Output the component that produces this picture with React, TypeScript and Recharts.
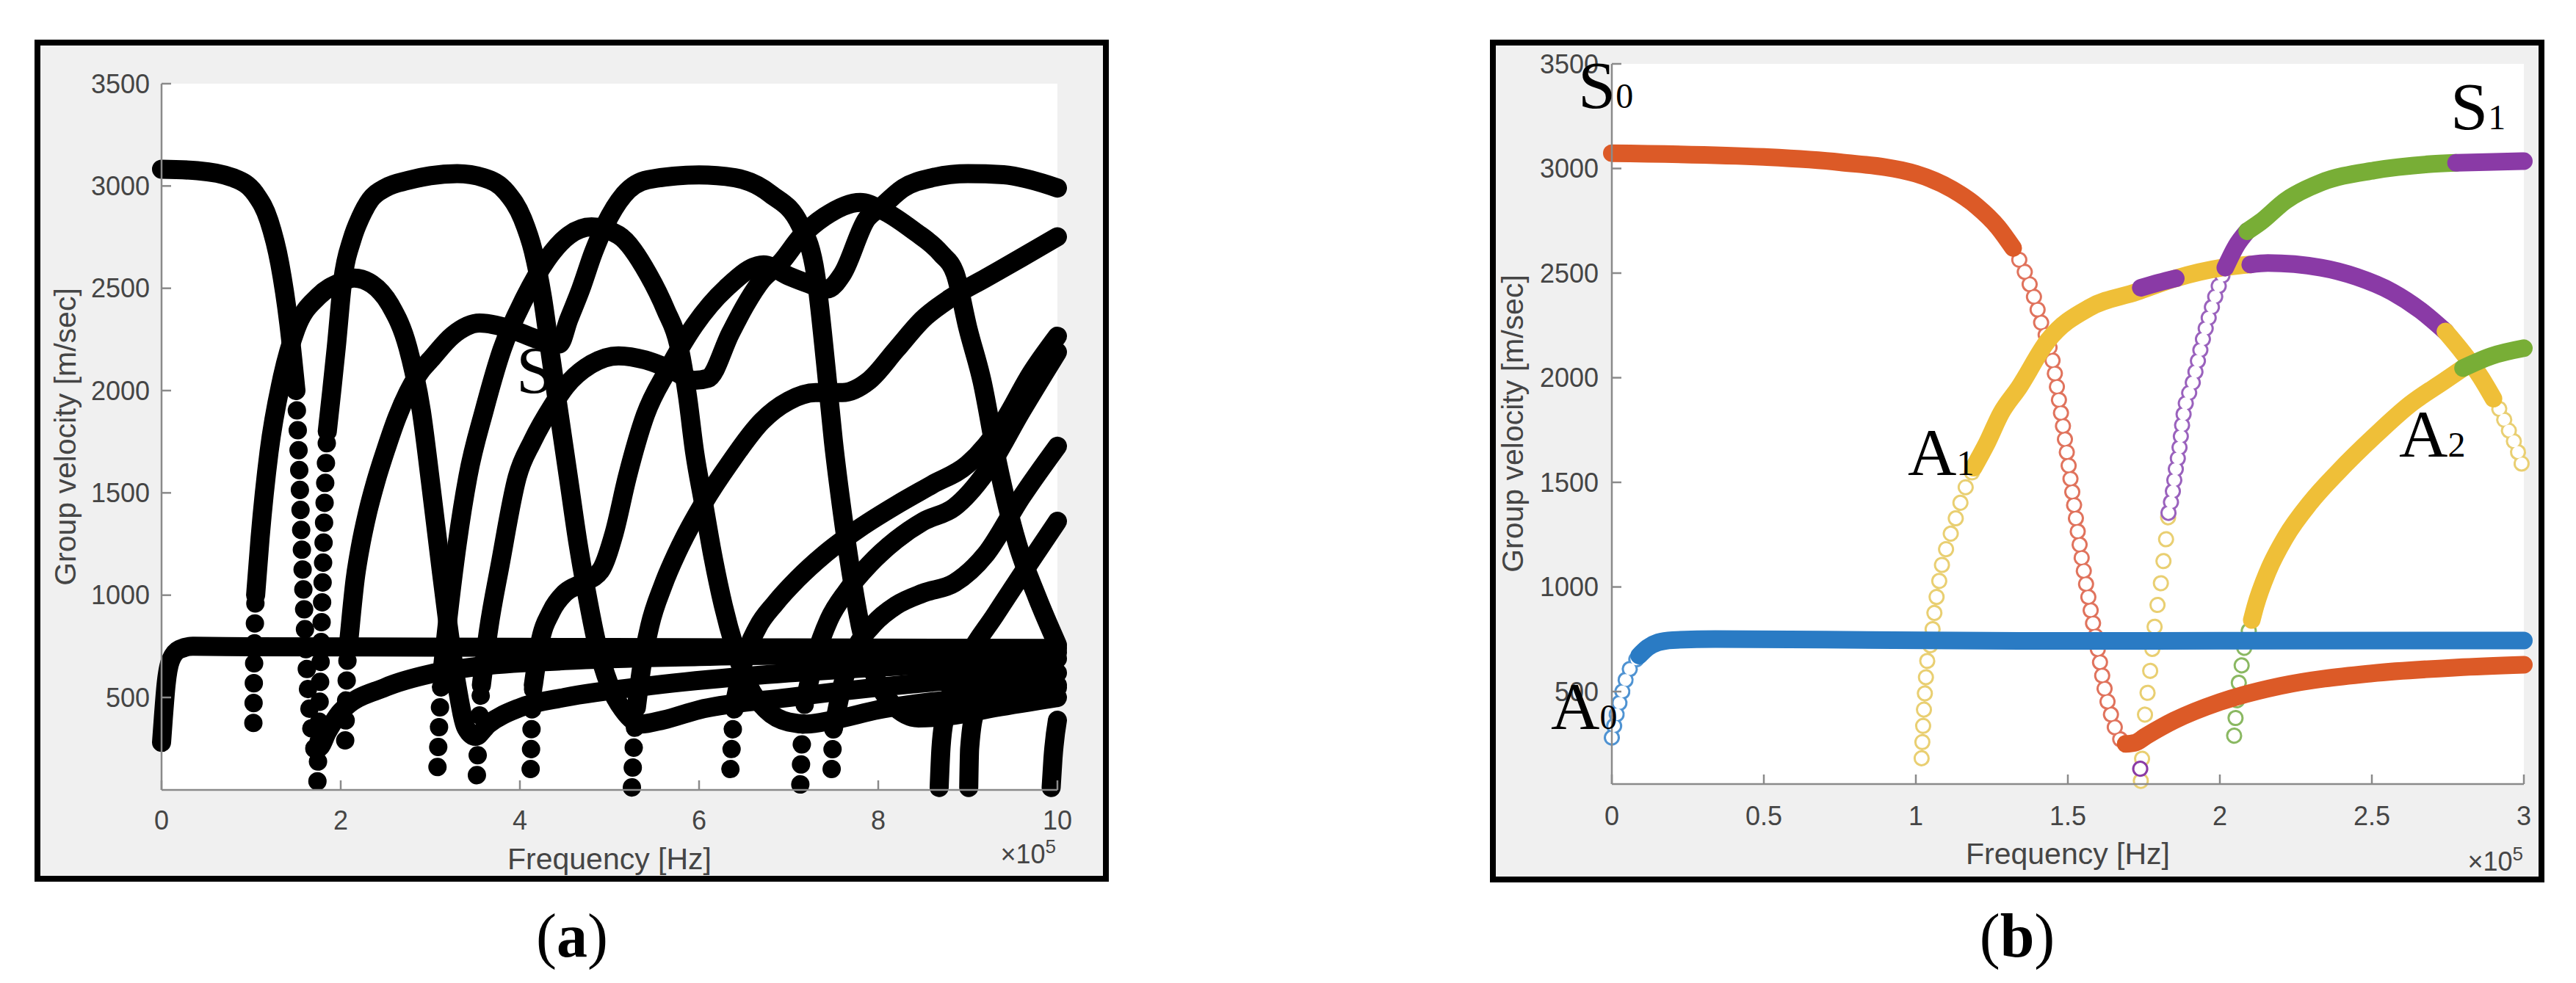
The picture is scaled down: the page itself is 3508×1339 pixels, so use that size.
import React from 'react';
import { ComposedChart, Line, XAxis, YAxis, CartesianGrid } from 'recharts';

type P = [number, number];

// ---------- panel (a): all modes, frequency in 1e5 Hz ----------
const A_X_TICKS = [0, 2, 4, 6, 8, 10];
const A_Y_TICKS = [500, 1000, 1500, 2000, 2500, 3000, 3500];

const A_A0: P[] = [[0, 280], [0.02, 400], [0.05, 560], [0.1, 680], [0.2, 735], [0.35, 750], [1, 748], [4, 745], [7, 742], [10, 740]];
const A_S0_1: P[] = [[0, 3082], [0.4, 3075], [0.8, 3040], [1.05, 2960], [1.2, 2830], [1.32, 2620], [1.42, 2330], [1.5, 2000]];
const A_S0_DOTS: P[] = [[1.5, 2000], [1.53, 1700], [1.56, 1300], [1.59, 950], [1.62, 650], [1.66, 400], [1.71, 250]];
const A_S0_2: P[] = [[1.71, 250], [1.76, 255], [1.85, 330], [2.0, 430], [2.5, 550], [3.0, 615], [3.5, 650], [4.5, 680], [6, 700], [8, 712], [10, 720]];
const A_A1_DOTS: P[] = [[1.025, 375], [1.03, 570], [1.035, 700], [1.04, 820], [1.05, 1000]];
const A_A1: P[] = [[1.05, 1000], [1.1, 1280], [1.2, 1700], [1.34, 2050], [1.5, 2300], [1.75, 2460], [2.0, 2530], [2.15, 2550], [2.35, 2520], [2.55, 2420], [2.75, 2210], [2.9, 1900], [3.0, 1560], [3.1, 1200], [3.2, 850], [3.3, 550], [3.4, 350], [3.5, 310], [3.65, 370], [4.0, 450], [4.5, 500], [5.5, 560], [7, 620], [8.5, 660], [10, 690]];
const A_S1_DOTS: P[] = [[1.74, 90], [1.76, 400], [1.78, 750], [1.8, 1100], [1.82, 1450], [1.85, 1800]];
const A_S1: P[] = [[1.85, 1800], [1.9, 2000], [1.95, 2210], [2.02, 2530], [2.13, 2744], [2.22, 2846], [2.33, 2933], [2.5, 2991], [2.75, 3027], [3.0, 3050], [3.3, 3060], [3.6, 3040], [3.85, 2970], [4.03, 2840], [4.15, 2680], [4.25, 2460], [4.35, 2150], [4.45, 1850], [4.55, 1550], [4.65, 1250], [4.75, 1000], [4.85, 780], [5.0, 560], [5.15, 440], [5.35, 370], [5.6, 390], [6, 440], [7, 500], [8, 550], [9, 590], [10, 620]];
const A_A2_DOTS: P[] = [[2.05, 290], [2.065, 560], [2.08, 730]];
const A_A2: P[] = [[2.08, 730], [2.105, 842], [2.12, 910], [2.16, 1074], [2.22, 1238], [2.3, 1404], [2.39, 1553], [2.51, 1720], [2.63, 1870], [2.75, 1990], [2.9, 2100], [3.0, 2150], [3.25, 2270], [3.55, 2330], [3.9, 2300], [4.2, 2250], [4.44, 2228], [4.545, 2347], [4.68, 2496], [4.82, 2674], [4.95, 2808], [5.16, 2957], [5.43, 3031], [6.0, 3054], [6.4, 3040], [6.8, 2960], [7.13, 2808], [7.3, 2570], [7.42, 2100], [7.5, 1750], [7.6, 1400], [7.7, 1100], [7.8, 850], [7.95, 620], [8.15, 470], [8.45, 400], [8.8, 410], [9.3, 450], [10, 500]];
const A_S2_DOTS: P[] = [[3.08, 160], [3.1, 380], [3.13, 620]];
const A_S2: P[] = [[3.13, 620], [3.2, 900], [3.3, 1250], [3.42, 1580], [3.6, 1900], [3.8, 2200], [4.05, 2450], [4.3, 2640], [4.55, 2760], [4.8, 2800], [5.1, 2760], [5.43, 2570], [5.63, 2392], [5.77, 2228], [5.87, 1975], [5.95, 1700], [6.05, 1450], [6.15, 1200], [6.27, 950], [6.4, 740], [6.55, 560], [6.75, 440], [7.0, 380], [7.2, 370], [7.5, 390], [8, 440], [9, 500], [10, 560]];
const A_A3_DOTS: P[] = [[3.52, 120], [3.54, 330], [3.57, 560]];
const A_A3: P[] = [[3.57, 560], [3.65, 830], [3.78, 1150], [3.97, 1577], [4.14, 1752], [4.37, 1930], [4.51, 2020], [4.8, 2130], [5.1, 2170], [5.4, 2150], [5.7, 2100], [5.95, 2050], [6.1, 2060], [6.35, 2280], [6.52, 2420], [6.7, 2540], [6.92, 2630], [7.13, 2749], [7.4, 2850], [7.8, 2920], [8.04, 2883], [8.4, 2780], [8.7, 2670], [8.86, 2570], [9.0, 2306], [9.16, 2043], [9.33, 1650], [9.55, 1256], [9.77, 994], [10, 757]];
const A_S3_DOTS: P[] = [[4.12, 150], [4.13, 350], [4.15, 560]];
const A_S3: P[] = [[4.15, 560], [4.22, 760], [4.35, 920], [4.5, 1010], [4.7, 1060], [4.9, 1120], [5.05, 1300], [5.2, 1580], [5.4, 1880], [5.65, 2100], [5.95, 2320], [6.3, 2500], [6.72, 2615], [7.0, 2560], [7.2, 2526], [7.43, 2496], [7.6, 2570], [7.87, 2838], [8.04, 2900], [8.28, 2990], [8.6, 3040], [9.0, 3060], [9.4, 3055], [9.7, 3030], [10, 2990]];
const A_A4_DOTS: P[] = [[5.25, 60], [5.27, 250], [5.3, 450]];
const A_A4: P[] = [[5.3, 450], [5.36, 650], [5.45, 850], [5.6, 1050], [5.8, 1250], [6.05, 1450], [6.35, 1650], [6.7, 1850], [7.0, 1950], [7.3, 1990], [7.6, 1990], [7.9, 2050], [8.2, 2200], [8.5, 2350], [8.8, 2450], [9.2, 2550], [9.6, 2650], [10, 2752]];
const A_A5_DOTS: P[] = [[6.35, 150], [6.37, 300], [6.4, 480]];
const A_A5: P[] = [[6.4, 480], [6.5, 680], [6.65, 840], [6.85, 960], [7.1, 1080], [7.4, 1200], [7.8, 1330], [8.2, 1440], [8.6, 1540], [9.0, 1640], [9.4, 1850], [9.7, 2080], [10, 2266]];
const A_S5_DOTS: P[] = [[7.13, 75], [7.15, 300], [7.2, 520]];
const A_S5: P[] = [[7.2, 520], [7.3, 700], [7.45, 880], [7.65, 1020], [7.9, 1150], [8.2, 1270], [8.5, 1360], [8.85, 1430], [9.2, 1600], [9.6, 1900], [10, 2188]];
const A_A6_DOTS: P[] = [[7.48, 150], [7.5, 350]];
const A_A6: P[] = [[7.5, 350], [7.6, 560], [7.75, 740], [7.95, 860], [8.2, 950], [8.5, 1010], [8.85, 1060], [9.2, 1200], [9.6, 1480], [10, 1728]];
const A_S6: P[] = [[8.68, 60], [8.7, 250], [8.75, 420], [8.85, 560], [9.0, 700], [9.3, 900], [9.6, 1100], [10, 1361]];
const A_A7: P[] = [[9.01, 60], [9.02, 250], [9.08, 420], [9.3, 480], [9.6, 520], [10, 547]];
const A_S7: P[] = [[9.93, 60], [9.95, 200], [10, 389]];

const A_BANDS = [A_A0, A_S0_1, A_S0_2, A_A1, A_S1, A_A2, A_S2, A_A3, A_S3, A_A4, A_A5, A_S5, A_A6, A_S6, A_A7, A_S7];
const A_DOTS = [A_S0_DOTS, A_A1_DOTS, A_S1_DOTS, A_A2_DOTS, A_S2_DOTS, A_A3_DOTS, A_S3_DOTS, A_A4_DOTS, A_A5_DOTS, A_S5_DOTS, A_A6_DOTS];

// ---------- panel (b): first modes, frequency in 1e5 Hz ----------
const B_X_TICKS = [0, 0.5, 1, 1.5, 2, 2.5, 3];
const B_Y_TICKS = [500, 1000, 1500, 2000, 2500, 3000, 3500];

const B_A0_RINGS: P[] = [[0, 280], [0.014, 379], [0.028, 462], [0.043, 545], [0.06, 611], [0.084, 660], [0.118, 710]];
const B_A0_BAND: P[] = [[0.09, 672], [0.118, 710], [0.152, 735], [0.2, 746], [0.34, 751], [0.7, 748], [1.34, 742], [2.0, 743], [3.0, 744]];
const B_S0_BAND1: P[] = [[0, 3073], [0.5, 3055], [0.75, 3030], [1.0, 2975], [1.12, 2900], [1.2, 2820], [1.27, 2720], [1.32, 2620]];
const B_S0_RINGS: P[] = [[1.32, 2620], [1.36, 2500], [1.39, 2380], [1.415, 2250], [1.434, 2175], [1.45, 2080], [1.47, 1900], [1.49, 1710], [1.515, 1450], [1.54, 1190], [1.57, 930], [1.6, 690], [1.62, 520], [1.64, 400], [1.665, 290], [1.69, 250]];
const B_S0_BAND2: P[] = [[1.69, 250], [1.72, 255], [1.76, 290], [1.85, 362], [2.0, 450], [2.2, 527], [2.5, 587], [2.78, 615], [3.0, 628]];
const B_A1_RINGS: P[] = [[1.019, 181], [1.029, 475], [1.037, 639], [1.052, 759], [1.06, 864], [1.068, 950], [1.077, 1029], [1.086, 1106], [1.098, 1173], [1.109, 1230], [1.123, 1288], [1.14, 1371], [1.158, 1453], [1.181, 1536], [1.204, 1602]];
const B_A1_BAND: P[] = [[1.19, 1570], [1.233, 1685], [1.28, 1830], [1.34, 1955], [1.434, 2177], [1.574, 2337], [1.726, 2410], [1.854, 2475], [2.006, 2526], [2.1, 2541]];
const B_A1_PURPLE1: P[] = [[1.74, 2430], [1.8, 2455], [1.855, 2475]];
const B_A1_PURPLE2: P[] = [[2.1, 2541], [2.158, 2548], [2.333, 2526], [2.45, 2482], [2.567, 2410], [2.66, 2322], [2.742, 2221]];
const B_A1_TAIL: P[] = [[2.742, 2221], [2.8, 2119], [2.858, 2003], [2.9, 1900]];
const B_A1_TAIL_RINGS: P[] = [[2.9, 1900], [2.917, 1857], [2.95, 1750], [2.975, 1668], [3.0, 1553]];
const B_S1_RINGS_Y: P[] = [[1.74, 73], [1.755, 412], [1.767, 545], [1.775, 660], [1.784, 792], [1.796, 925], [1.808, 1040], [1.817, 1156], [1.825, 1255], [1.831, 1354]];
const B_S1_RINGS_P: P[] = [[1.831, 1354], [1.845, 1453], [1.854, 1553], [1.866, 1652], [1.878, 1799], [1.913, 1988], [1.948, 2206], [1.983, 2380], [2.018, 2526]];
const B_S1_LOW_P: P[] = [[1.738, 131], [1.739, 133]];
const B_S1_PURPLE1: P[] = [[2.018, 2526], [2.053, 2628], [2.09, 2700]];
const B_S1_GREEN: P[] = [[2.09, 2700], [2.134, 2744], [2.216, 2846], [2.333, 2933], [2.508, 2991], [2.683, 3020], [2.777, 3027]];
const B_S1_PURPLE2: P[] = [[2.777, 3027], [2.9, 3032], [3.0, 3035]];
const B_A2_RINGS: P[] = [[2.047, 289], [2.064, 562], [2.074, 644], [2.082, 726], [2.095, 790], [2.105, 842]];
const B_A2_BAND: P[] = [[2.105, 842], [2.117, 908], [2.158, 1074], [2.216, 1238], [2.298, 1404], [2.391, 1553], [2.508, 1720], [2.625, 1872], [2.742, 1988], [2.8, 2046]];
const B_A2_GREEN: P[] = [[2.8, 2046], [2.894, 2104], [3.0, 2141]];

const BLUE = '#2a7bc4';
const ORANGE = '#dc5a27';
const YELLOW = '#efbf38';
const PURPLE = '#8a3aa6';
const GREEN = '#78ae36';
const BLUE_RING = '#4f93d2';
const ORANGE_RING = '#e0735d';
const YELLOW_RING = '#e9cf72';
const PURPLE_RING = '#9a62bd';
const GREEN_RING = '#8ab862';

const AXIS = '#8a8a8a';
const TICK_TXT = '#454545';
const SANS = '"Liberation Sans", Arial, Helvetica, sans-serif';
const SERIF = '"Liberation Serif", "DejaVu Serif", serif';

const toData = (a: P[]) => a.map(([x, y]) => ({ x, y }));

const band = (key: string, a: P[], color: string, width: number) => (
  <Line
    key={key}
    data={toData(a)}
    dataKey="y"
    type="monotone"
    stroke={color}
    strokeWidth={width}
    strokeLinecap="round"
    strokeLinejoin="round"
    dot={false}
    activeDot={false}
    isAnimationActive={false}
  />
);

const dotted = (key: string, a: P[], color: string, size: number, gap: number) => (
  <Line
    key={key}
    data={toData(a)}
    dataKey="y"
    type="monotone"
    stroke={color}
    strokeWidth={size}
    strokeLinecap="round"
    strokeDasharray={`0.1 ${gap}`}
    dot={false}
    activeDot={false}
    isAnimationActive={false}
  />
);

const rings = (key: string, a: P[], color: string, gap: number) => [
  dotted(key + 'o', a, color, 22, gap),
  dotted(key + 'i', a, '#ffffff', 16, gap),
];

interface FrameProps {
  left: number;
  width: number;
  height: number;
  margin: { top: number; right: number; bottom: number; left: number };
  xDomain: [number, number];
  yDomain: [number, number];
  xTicks: number[];
  yTicks: number[];
  xTickMargin: number;
  yTickMargin: number;
  children: React.ReactNode;
}

const Frame = (p: FrameProps) => (
  <div style={{ position: 'absolute', left: p.left, top: 0, width: p.width, height: p.height }}>
    <ComposedChart width={p.width} height={p.height} margin={p.margin}>
      <CartesianGrid horizontal={false} vertical={false} fill="#ffffff" />
      <XAxis
        dataKey="x"
        type="number"
        domain={p.xDomain}
        ticks={p.xTicks}
        height={80}
        tickSize={-13}
        tickMargin={p.xTickMargin}
        stroke={AXIS}
        strokeWidth={2.5}
        tick={{ fill: TICK_TXT, fontSize: 36, fontFamily: SANS }}
      />
      <XAxis
        xAxisId="top"
        orientation="top"
        dataKey="x"
        type="number"
        domain={p.xDomain}
        ticks={p.xTicks}
        allowDataOverflow
        height={0}
        tickSize={-13}
        tick={false}
        stroke={AXIS}
        strokeWidth={2.5}
      />
      <YAxis
        type="number"
        domain={p.yDomain}
        ticks={p.yTicks}
        width={120}
        tickSize={-13}
        tickMargin={p.yTickMargin}
        stroke={AXIS}
        strokeWidth={2.5}
        tick={{ fill: TICK_TXT, fontSize: 36, fontFamily: SANS }}
      />
      <YAxis
        yAxisId="right"
        orientation="right"
        type="number"
        domain={p.yDomain}
        ticks={p.yTicks}
        allowDataOverflow
        width={0}
        tickSize={-13}
        tick={false}
        stroke={AXIS}
        strokeWidth={2.5}
      />
      {p.children}
    </ComposedChart>
  </div>
);

const boxStyle = (left: number, width: number, height: number): React.CSSProperties => ({
  position: 'absolute',
  left,
  top: 54,
  width,
  height,
  boxSizing: 'border-box',
  border: '8px solid #000',
  background: '#f0f0f0',
});

const App = () => {
  const aLines = [
    ...A_DOTS.map((d, i) => dotted('ad' + i, d, '#000', 25, 27)),
    ...A_BANDS.map((d, i) => band('ab' + i, d, '#000', 26)),
  ];

  const bLines = [
    ...rings('r1', B_A0_RINGS, BLUE_RING, 16),
    ...rings('r2', B_S0_RINGS, ORANGE_RING, 18),
    ...rings('r3', B_A1_RINGS, YELLOW_RING, 22),
    ...rings('r4', B_A1_TAIL_RINGS, YELLOW_RING, 16),
    ...rings('r5', B_S1_RINGS_Y, YELLOW_RING, 30),
    ...rings('r6', B_S1_RINGS_P, PURPLE_RING, 15),
    ...rings('r7', B_S1_LOW_P, PURPLE, 30),
    ...rings('r8', B_A2_RINGS, GREEN_RING, 24),
    band('b1', B_A0_BAND, BLUE, 24),
    band('b2', B_S0_BAND1, ORANGE, 24),
    band('b3', B_S0_BAND2, ORANGE, 24),
    band('b4', B_A1_BAND, YELLOW, 24),
    band('b5', B_A1_PURPLE1, PURPLE, 24),
    band('b6', B_A1_PURPLE2, PURPLE, 24),
    band('b7', B_A1_TAIL, YELLOW, 24),
    band('b8', B_S1_PURPLE1, PURPLE, 24),
    band('b9', B_S1_GREEN, GREEN, 24),
    band('b10', B_S1_PURPLE2, PURPLE, 24),
    band('b11', B_A2_BAND, YELLOW, 24),
    band('b12', B_A2_GREEN, GREEN, 24),
  ];

  const big = { fontFamily: SERIF, fontSize: 92, fill: '#000' };
  const sub = { fontSize: 48 };
  const axisLabel = { fontFamily: SANS, fontSize: 41, fill: TICK_TXT };

  return (
    <div style={{ position: 'absolute', left: 0, top: 0, width: 3508, height: 1339, background: '#fff', overflow: 'hidden' }}>
      <div style={boxStyle(47, 1463, 1147)} />
      <div style={boxStyle(2029, 1436, 1148)} />

      <Frame
        left={0}
        width={1500}
        height={1200}
        margin={{ top: 114, right: 60, bottom: 44, left: 100 }}
        xDomain={[0, 10]}
        yDomain={[48, 3500]}
        xTicks={A_X_TICKS}
        yTicks={A_Y_TICKS}
        xTickMargin={41}
        yTickMargin={29}
      >
        {aLines}
      </Frame>

      <Frame
        left={2040}
        width={1420}
        height={1200}
        margin={{ top: 87, right: 23, bottom: 52, left: 35 }}
        xDomain={[0, 3]}
        yDomain={[58, 3500]}
        xTicks={B_X_TICKS}
        yTicks={B_Y_TICKS}
        xTickMargin={43}
        yTickMargin={31}
      >
        {bLines}
      </Frame>

      <svg width={3508} height={1339} style={{ position: 'absolute', left: 0, top: 0, pointerEvents: 'none' }}>
        {/* axis titles */}
        <text x={89} y={595} transform="rotate(-90 89 595)" textAnchor="middle" dominantBaseline="central" {...axisLabel}>
          Group velocity [m/sec]
        </text>
        <text x={830} y={1170} textAnchor="middle" dominantBaseline="central" {...axisLabel}>
          Frequency [Hz]
        </text>
        <text x={1438} y={1176} textAnchor="end" fontFamily={SANS} fontSize={36} fill={TICK_TXT}>
          ×10<tspan dy={-14} fontSize={26}>5</tspan>
        </text>

        <text x={2060} y={577} transform="rotate(-90 2060 577)" textAnchor="middle" dominantBaseline="central" {...axisLabel}>
          Group velocity [m/sec]
        </text>
        <text x={2816} y={1163} textAnchor="middle" dominantBaseline="central" {...axisLabel}>
          Frequency [Hz]
        </text>
        <text x={3436} y={1186} textAnchor="end" fontFamily={SANS} fontSize={36} fill={TICK_TXT}>
          ×10<tspan dy={-14} fontSize={26}>5</tspan>
        </text>

        {/* mode labels */}
        <text x={703} y={535} {...big}>S</text>
        <text x={2149} y={147} {...big}>S<tspan {...sub}>0</tspan></text>
        <text x={3337} y={176} {...big}>S<tspan {...sub}>1</tspan></text>
        <text x={2598} y={647} {...big}>A<tspan {...sub}>1</tspan></text>
        <text x={3267} y={622} {...big}>A<tspan {...sub}>2</tspan></text>
        <text x={2112} y={993} {...big}>A<tspan {...sub}>0</tspan></text>

        {/* sub-figure captions */}
        <text x={779} y={1303} textAnchor="middle" fontFamily={SERIF} fontSize={84} fill="#000">
          (<tspan fontWeight="bold">a</tspan>)
        </text>
        <text x={2747} y={1303} textAnchor="middle" fontFamily={SERIF} fontSize={84} fill="#000">
          (<tspan fontWeight="bold">b</tspan>)
        </text>
      </svg>
    </div>
  );
};

export default App;
